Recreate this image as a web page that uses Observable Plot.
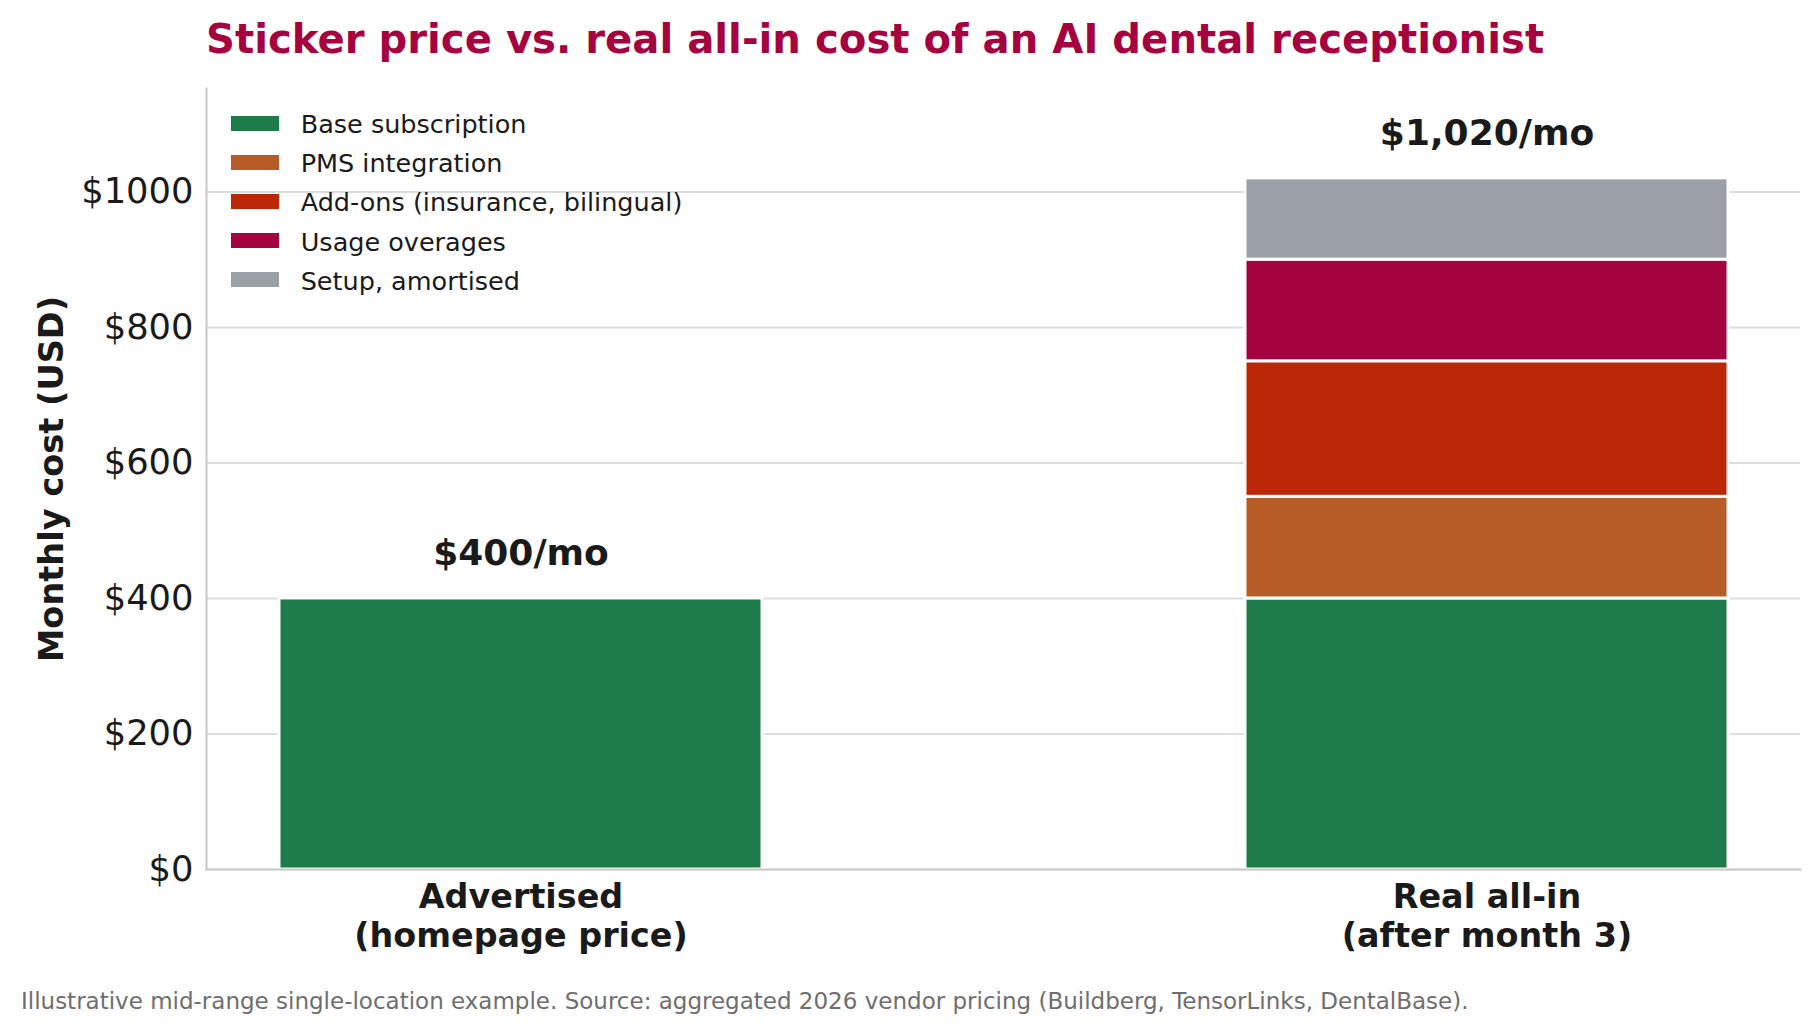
<!DOCTYPE html>
<html>
<head>
<meta charset="utf-8">
<script src="https://cdn.jsdelivr.net/npm/d3@7"></script>
<script src="https://cdn.jsdelivr.net/npm/@observablehq/plot@0.6"></script>
<style>
  html, body { margin: 0; padding: 0; background: #fff; }
  body { width: 1818px; height: 1033px; overflow: hidden; position: relative;
         font-family: "DejaVu Sans", sans-serif; }
  #title { box-sizing: border-box; height: 66px; padding: 19px 0 0 206px;
           font-size: 40.2px; line-height: 40px; font-weight: bold; color: #a5033f; white-space: nowrap; }
  #chart svg { display: block; }
  #legend { position: absolute; left: 231px; top: 104px; }
  .row { height: 39.08px; display: flex; align-items: center; }
  .sw { width: 48px; height: 15px; }
  .lab { margin-left: 21.7px; font-size: 25.5px; line-height: 25px; color: #1a1a1a;
         position: relative; top: 1.3px; white-space: nowrap; }
  #caption { box-sizing: border-box; padding: 23.5px 0 0 21px; font-size: 23px;
             line-height: 22.7px; color: #6e6e6e; white-space: nowrap; }
</style>
</head>
<body>
<div id="title">Sticker price vs. real all-in cost of an AI dental receptionist</div>
<div id="chart"></div>
<div id="legend"></div>
<div id="caption">Illustrative mid-range single-location example. Source: aggregated 2026 vendor pricing (Buildberg, TensorLinks, DentalBase).</div>
<script>
// Pricing scenarios (x categories)
const stages = ["Advertised\n(homepage price)", "Real all-in\n(after month 3)"];

// Cost components, stacked bottom to top
const components = [
  "Base subscription",
  "PMS integration",
  "Add-ons (insurance, bilingual)",
  "Usage overages",
  "Setup, amortised"
];
const componentColors = ["#1e7b4a", "#b75c27", "#bb2707", "#a5033f", "#9b9fa6"];

// Monthly cost (USD) of each component, per scenario
const advertisedCosts = [400, 0, 0, 0, 0];
const realAllInCosts = [400, 150, 200, 150, 120];

// Y axis ticks
const yTicks = [0, 200, 400, 600, 800, 1000];

// Long-format rows for stacking (zero segments dropped)
const rows = [];
[advertisedCosts, realAllInCosts].forEach((costs, i) => {
  costs.forEach((v, j) => {
    if (v > 0) rows.push({stage: stages[i], component: components[j], value: v});
  });
});

const totals = stages.map((s, i) => ({
  stage: s,
  total: d3.sum([advertisedCosts, realAllInCosts][i])
}));
const yMax = d3.max(totals, d => d.total) * 1.13;

const chart = Plot.plot({
  width: 1818,
  height: 900,
  marginTop: 22,
  marginBottom: 97,
  marginLeft: 206,
  marginRight: 18,
  style: {fontFamily: "DejaVu Sans, sans-serif", color: "#1a1a1a", background: "#fff", overflow: "visible"},
  x: {type: "band", domain: stages, paddingInner: 0.5, paddingOuter: 0.075, label: null},
  y: {domain: [0, yMax], label: null},
  color: {domain: components, range: componentColors},
  marks: [
    Plot.gridY(yTicks, {stroke: "#dddddd", strokeOpacity: 1, strokeWidth: 2}),
    Plot.barY(rows, {x: "stage", y: "value", fill: "component", stroke: "white", strokeWidth: 3}),
    Plot.frame({anchor: "left", stroke: "#c8c8c8", strokeWidth: 2}),
    Plot.frame({anchor: "bottom", stroke: "#c8c8c8", strokeWidth: 2}),
    Plot.axisY(yTicks, {tickSize: 0, tickPadding: 13, fontSize: 35.3, tickFormat: d => "$" + d, label: null}),
    Plot.axisX({tickSize: 0, tickPadding: 11, fontSize: 33.4, fontWeight: "bold", lineHeight: 1.16, label: null}),
    Plot.text(totals, {
      x: "stage", y: "total",
      text: d => "$" + d3.format(",")(d.total) + "/mo",
      dy: -44.5, fontSize: 36, fontWeight: "bold", fill: "#1a1a1a"
    }),
    Plot.text(["Monthly cost (USD)"], {
      frameAnchor: "left", dx: -154, rotate: -90, textAnchor: "middle",
      fontSize: 33.6, fontWeight: "bold", fill: "#1a1a1a"
    })
  ]
});
document.getElementById("chart").appendChild(chart);

// Legend: one swatch row per component
const legend = document.getElementById("legend");
components.forEach((c, i) => {
  const row = document.createElement("div");
  row.className = "row";
  const sw = document.createElement("div");
  sw.className = "sw";
  sw.style.background = componentColors[i];
  const lab = document.createElement("span");
  lab.className = "lab";
  lab.textContent = c;
  row.appendChild(sw);
  row.appendChild(lab);
  legend.appendChild(row);
});
</script>
</body>
</html>
